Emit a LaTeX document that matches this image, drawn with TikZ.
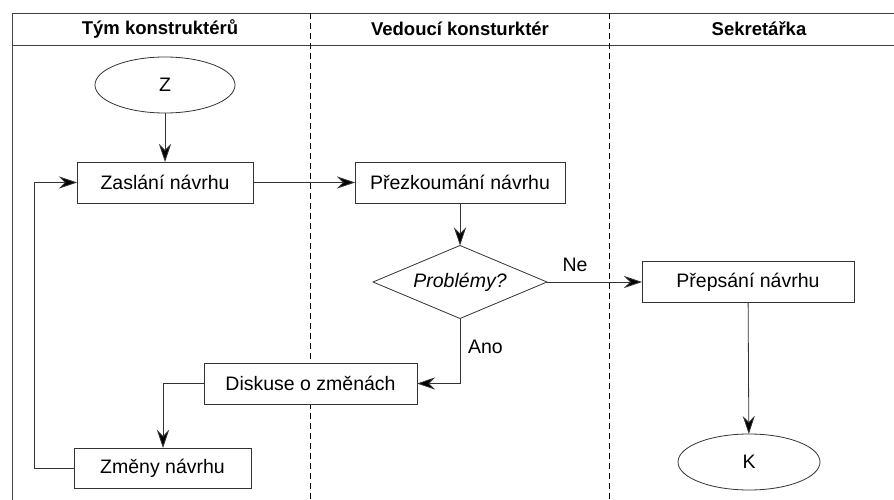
\documentclass[tikz,border=0pt]{standalone}
\usepackage{fontspec}
\setmainfont{Liberation Sans}
\newfontfamily\headfont{Liberation Sans}
\usetikzlibrary{shapes.geometric,arrows.meta}
\begin{document}
\begin{tikzpicture}[x=1pt,y=-1pt,
  every node/.style={inner sep=0pt, outer sep=0pt},
  lane/.style={draw=black!75, line width=0.8pt},
  divider/.style={draw=black, line width=0.8pt, dash pattern=on 6pt off 4pt},
  head/.style={font=\headfont\bfseries\fontsize{18.5}{22}\selectfont},
  txt/.style={font=\fontsize{19.5}{23}\selectfont},
  boxed/.style={txt, draw=black!80, fill=white, line width=0.8pt},
  proc/.style={boxed, rectangle},
  term/.style={boxed, ellipse, minimum width=140pt, minimum height=56pt},
  decide/.style={boxed, diamond, aspect=2.4, minimum width=174pt, minimum height=73pt, font=\itshape\fontsize{19.5}{23}\selectfont},
  flow/.style={draw=black!80, line width=0.8pt, -{Stealth[length=18pt,width=12pt,inset=6pt,fill=black]}}
]
\useasboundingbox (0,0) rectangle (894,500);
% swimlane frame
\draw[lane] (894,13) -- (12,13) -- (12,500);
\draw[lane] (12,45) -- (894,45);
\draw[divider] (310,13) -- (310,500);
\draw[divider] (609,13) -- (609,500);
% lane titles
\node[head] at (160,29) {Tým konstruktérů};
\node[head] at (460,29) {Vedoucí konsturktér};
\node[head] at (759,29) {Sekretářka};
% shapes
\node[term] (z) at (165,85) {Z};
\node[proc, minimum width=176pt, minimum height=41pt] (zaslani) at (165,182.5) {Zaslání návrhu};
\node[proc, minimum width=210pt, minimum height=41pt] (prezk) at (460,182.5) {Přezkoumání návrhu};
\node[decide] (probl) at (460,282) {Problémy?};
\node[proc, minimum width=212pt, minimum height=41pt] (prepsani) at (748,282) {Přepsání návrhu};
\node[proc, minimum width=213pt, minimum height=41pt] (diskuse) at (310.5,383.5) {Diskuse o změnách};
\node[proc, minimum width=177pt, minimum height=40pt] (zmeny) at (162.5,468) {Změny návrhu};
\node[term, minimum width=142pt] (k) at (749,462) {K};
% branch labels
\node[txt] at (575,265) {Ne};
\node[txt, anchor=west] at (468,347) {Ano};
% connector bends
\coordinate (ano) at (460,383.5);
\coordinate (dbend) at (163,383.5);
\coordinate (fb) at (34,468);
\coordinate (fbtop) at (34,182.5);
% connectors
\draw[flow] (z) -- (zaslani);
\draw[flow] (zaslani) -- (prezk);
\draw[flow] (prezk) -- (probl);
\draw[flow] (probl.east) -- (prepsani.west);
\draw[flow] (probl.south) -- (ano) -- (diskuse.east);
\draw[flow] (diskuse.west) -- (dbend) -- (dbend |- zmeny.north);
\draw[flow] (zmeny.west) -- (fb) -- (fbtop) -- (zaslani.west);
\draw[flow] (prepsani) -- (k);
\end{tikzpicture}
\end{document}
